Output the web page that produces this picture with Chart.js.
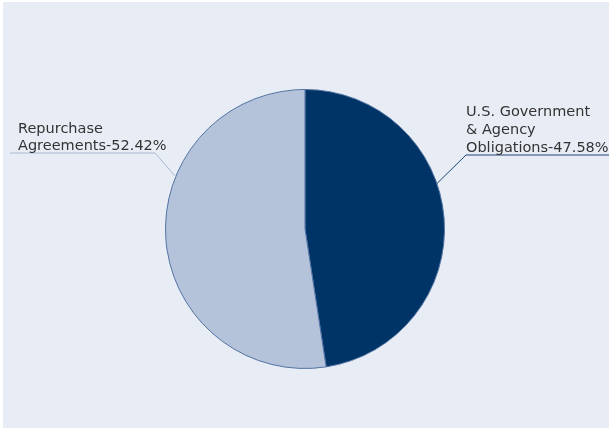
<!DOCTYPE html>
<html>
<head>
<meta charset="utf-8">
<script src="https://cdn.jsdelivr.net/npm/chart.js@4/dist/chart.umd.min.js"></script>
<style>
  html, body { margin: 0; padding: 0; background: #ffffff; overflow: hidden; }
  #wrap { position: absolute; left: 3px; top: 2px; width: 606px; height: 426px; background: #e8edf5; }
  canvas { display: block; }
</style>
</head>
<body>
<div id="wrap"><canvas id="c" width="606" height="426"></canvas></div>
<script>
const categories = [
  ['U.S. Government', '& Agency', 'Obligations'],
  ['Repurchase', 'Agreements']
];
const values = [47.58, 52.42];
const colors = ['#003466', '#b4c2da'];
const leaderColors = ['#1f4474', '#a9b9d2'];

const labelPlugin = {
  id: 'pieLabels',
  afterDraw(chart) {
    const meta = chart.getDatasetMeta(0);
    const arc = meta.data[0];
    const cx = arc.x, cy = arc.y, r = arc.outerRadius;
    const ctx = chart.ctx;
    const W = chart.width;
    ctx.save();
    ctx.font = '14.5px "DejaVu Sans", sans-serif';
    ctx.textBaseline = 'alphabetic';
    // slice 0 label: right side
    {
      const ang = 71 * Math.PI / 180;
      const ax = cx + r * Math.sin(ang), ay = cy - r * Math.cos(ang);
      const ux = cx + 161, uy = cy - 74;
      ctx.strokeStyle = leaderColors[0];
      ctx.lineWidth = 1;
      ctx.beginPath();
      ctx.moveTo(ax, ay); ctx.lineTo(ux, uy); ctx.lineTo(W, uy);
      ctx.stroke();
      const lines = categories[0].slice();
      lines[lines.length - 1] += '-' + values[0].toFixed(2) + '%';
      ctx.fillStyle = '#333333';
      ctx.textAlign = 'left';
      for (let i = 0; i < lines.length; i++) {
        ctx.fillText(lines[i], ux, uy - 3 - (lines.length - 1 - i) * 18);
      }
    }
    // slice 1 label: left side
    {
      const ang = 292 * Math.PI / 180;
      const ax = cx + r * Math.sin(ang), ay = cy - r * Math.cos(ang);
      const ux = cx - 150, uy = cy - 76;
      ctx.strokeStyle = leaderColors[1];
      ctx.lineWidth = 1;
      ctx.beginPath();
      ctx.moveTo(ax, ay); ctx.lineTo(ux, uy); ctx.lineTo(7, uy);
      ctx.stroke();
      const lines = categories[1].slice();
      lines[lines.length - 1] += '-' + values[1].toFixed(2) + '%';
      ctx.fillStyle = '#333333';
      ctx.textAlign = 'left';
      for (let i = 0; i < lines.length; i++) {
        ctx.fillText(lines[i], 15, uy - 3 - (lines.length - 1 - i) * 17);
      }
    }
    ctx.restore();
  }
};

new Chart(document.getElementById('c'), {
  type: 'pie',
  data: {
    labels: categories.map(c => c.join(' ')),
    datasets: [{
      data: values,
      backgroundColor: colors,
      borderColor: '#5273a3',
      borderWidth: 1
    }]
  },
  options: {
    responsive: false,
    animation: false,
    layout: { padding: { top: 87, bottom: 59, left: 0, right: 2 } },
    plugins: { legend: { display: false }, tooltip: { enabled: false } }
  },
  plugins: [labelPlugin]
});
</script>
</body>
</html>
